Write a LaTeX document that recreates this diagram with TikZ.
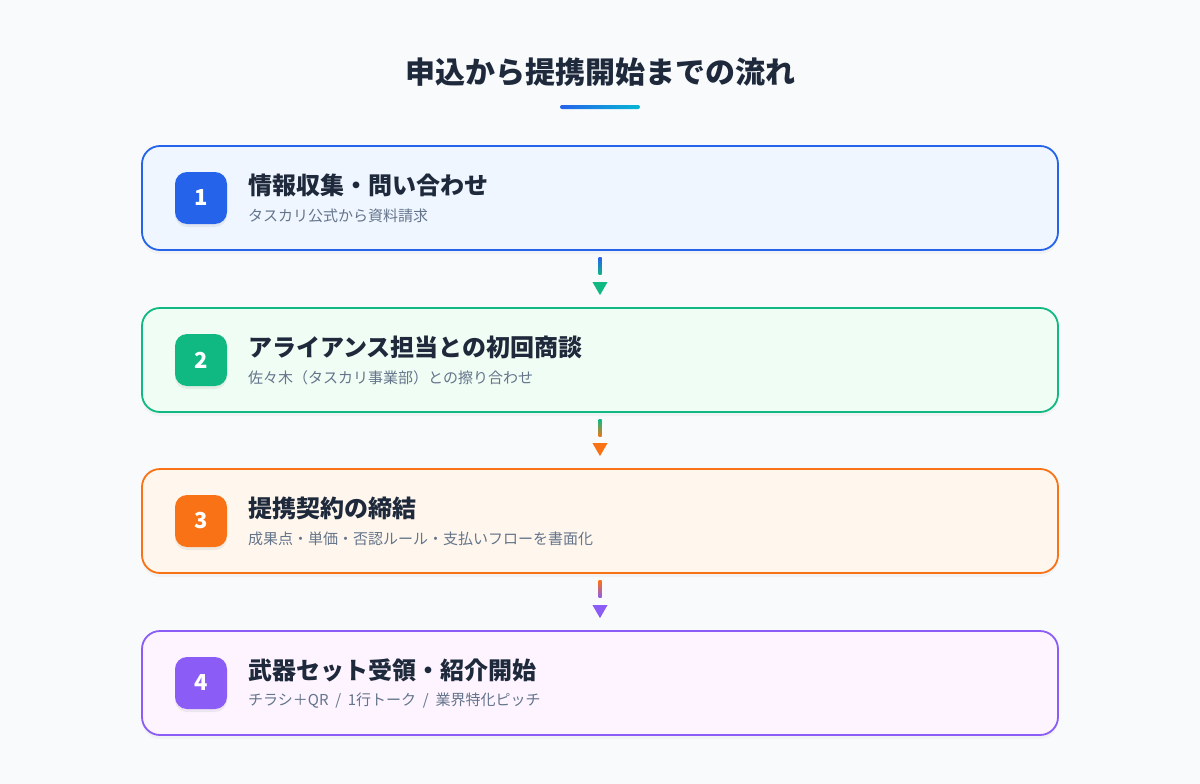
\documentclass[tikz,border=0pt]{standalone}
\usepackage{fontspec}
\setmainfont{Noto Sans CJK JP}
\usetikzlibrary{calc,shadows}
\definecolor{bg}{HTML}{F8FAFC}
\definecolor{ink}{HTML}{1E293B}
\definecolor{sub}{HTML}{64748B}
\definecolor{cA}{HTML}{2563EB}
\definecolor{cB}{HTML}{10B981}
\definecolor{cC}{HTML}{F97316}
\definecolor{cD}{HTML}{8B5CF6}
\definecolor{fA}{HTML}{EFF6FF}
\definecolor{fB}{HTML}{F0FDF4}
\definecolor{fC}{HTML}{FFF7ED}
\definecolor{fD}{HTML}{FDF4FF}
\definecolor{cyan}{HTML}{06B6D4}
\tikzset{
  card/.style={draw=#1, line width=1.8pt, rounded corners=18pt, minimum width=916pt, minimum height=104pt, inner sep=0pt,
    drop shadow={opacity=0.06, shadow xshift=0pt, shadow yshift=-4pt}},
  badge/.style={fill=#1, rounded corners=12pt, minimum width=52pt, minimum height=52pt, inner sep=0pt,
    text=white, font=\fontsize{22}{24}\selectfont\bfseries,
    drop shadow={opacity=0.12, shadow xshift=0pt, shadow yshift=-3pt}},
  stitle/.style={anchor=west, inner sep=0pt, text=ink, font=\fontsize{24}{28}\selectfont\bfseries},
  ssub/.style={anchor=west, inner sep=0pt, text=sub, font=\fontsize{15}{18}\selectfont},
}
\newcommand{\flowarrow}[4]{%
  \shade[top color=#3, bottom color=#4] ($(#1.south)+(-1.5,7)$) rectangle ($(#1.south)+(1.5,24)$);
  \fill[#4] ($(#2.north)+(-7.5,-25)$) -- ($(#2.north)+(7.5,-25)$) -- ($(#2.north)+(0,-12)$) -- cycle;
}
\begin{document}
\begin{tikzpicture}[x=1pt,y=-1pt]
\fill[bg] (0,0) rectangle (1200,784);
\useasboundingbox (0,0) rectangle (1200,784);
\node[text=ink, font=\fontsize{30}{34}\selectfont\bfseries, inner sep=0pt] (title) at (600,72) {申込から提携開始までの流れ};
\shade[left color=cA, right color=cyan, rounded corners=2pt] (560,105) rectangle (640,109);

% cards
\node[card=cA, fill=fA] (b1) at (600,198) {};
\node[card=cB, fill=fB] (b2) at (600,360) {};
\node[card=cC, fill=fC] (b3) at (600,521) {};
\node[card=cD, fill=fD] (b4) at (600,683) {};

\node[badge=cA] (n1) at (201,198) {1};
\node[badge=cB] (n2) at (201,360) {2};
\node[badge=cC] (n3) at (201,521) {3};
\node[badge=cD] (n4) at (201,683) {4};

\node[stitle] (t1) at (248,185) {情報収集・問い合わせ};
\node[ssub] (s1) at (248,216) {タスカリ公式から資料請求};
\node[stitle] (t2) at (248,347) {アライアンス担当との初回商談};
\node[ssub] (s2) at (248,378) {佐々木（タスカリ事業部）との擦り合わせ};
\node[stitle] (t3) at (248,508) {提携契約の締結};
\node[ssub] (s3) at (248,539) {成果点・単価・否認ルール・支払いフローを書面化};
\node[stitle] (t4) at (248,670) {武器セット受領・紹介開始};
\node[ssub] (s4) at (248,701) {チラシ＋QR \ / \ 1行トーク \ / \ 業界特化ピッチ};

\flowarrow{b1}{b2}{cA}{cB}
\flowarrow{b2}{b3}{cB}{cC}
\flowarrow{b3}{b4}{cC}{cD}
\end{tikzpicture}
\end{document}
